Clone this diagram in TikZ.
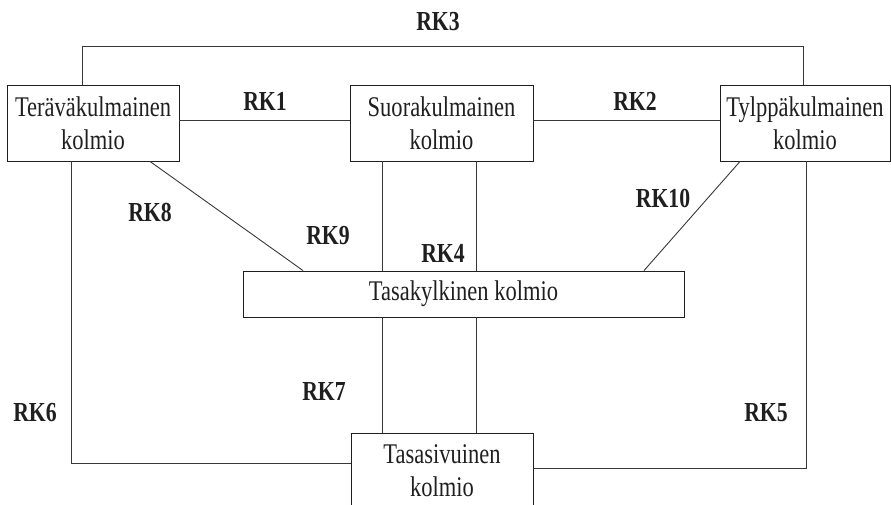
\documentclass[tikz,border=0pt]{standalone}
\usepackage{fontspec}
\setmainfont{Liberation Serif}[FakeStretch=0.79]
\begin{document}
\begin{tikzpicture}[x=1pt,y=-1pt,
  box/.style={draw=black!88,line width=0.9pt,rectangle,align=center,
    inner sep=0pt,text=black!88,font=\fontsize{28.5}{32.5}\selectfont},
  lbl/.style={inner sep=0pt,text=black!88,font=\fontsize{27.5}{32}\selectfont\bfseries},
  link/.style={draw=black!78,line width=0.9pt}]
\useasboundingbox (0,0) rectangle (891,504);

% triangle types
\node[box,minimum width=172pt,minimum height=76pt] (acute) at (93,123) {Teräväkulmainen\\kolmio};
\node[box,minimum width=183pt,minimum height=76pt] (right) at (441.5,123) {Suorakulmainen\\kolmio};
\node[box,minimum width=170pt,minimum height=76pt] (obtuse) at (805,123) {Tylppäkulmainen\\kolmio};
\node[box,minimum width=441pt,minimum height=46pt] (isos) at (463.5,294) {Tasakylkinen kolmio};
\node[box,minimum width=182pt,minimum height=75pt] (equi) at (442,470.5) {Tasasivuinen\\kolmio};

% relations
\draw[link] ([xshift=-11]acute.north) -- ++(0,-38) -| ([xshift=-2]obtuse.north);
\draw[link] ([yshift=2.5]acute.east) -- ([yshift=2.5]right.west);
\draw[link] ([yshift=2.5]right.east) -- ([yshift=2.5]obtuse.west);
\draw[link] ([xshift=-59.5]right.south) -- ([xshift=-59.5]right.south |- isos.north);
\draw[link] ([xshift=34.5]right.south) -- ([xshift=34.5]right.south |- isos.north);
\draw[link] ([xshift=-60]equi.north) -- ([xshift=-60]equi.north |- isos.south);
\draw[link] ([xshift=34]equi.north) -- ([xshift=34]equi.north |- isos.south);
\draw[link] ([xshift=-22]acute.south) |- ([yshift=7.5]equi.west);
\draw[link] ([xshift=1]obtuse.south) |- ([yshift=2.5]equi.east);
\draw[link] ([xshift=57]acute.south) -- ([xshift=-160.5]isos.north);
\draw[link] ([xshift=-65]obtuse.south) -- ([xshift=180.5]isos.north);

% relation labels
\node[lbl] (rk3) at (438,22) {RK3};
\node[lbl] (rk1) at (265,101) {RK1};
\node[lbl] (rk2) at (635,101) {RK2};
\node[lbl] (rk8) at (150,212) {RK8};
\node[lbl] (rk9) at (328,236) {RK9};
\node[lbl] (rk4) at (443,253) {RK4};
\node[lbl] (rk10) at (663,198) {RK10};
\node[lbl] (rk7) at (324,391) {RK7};
\node[lbl] (rk6) at (35,413) {RK6};
\node[lbl] (rk5) at (766,413) {RK5};
\end{tikzpicture}
\end{document}
